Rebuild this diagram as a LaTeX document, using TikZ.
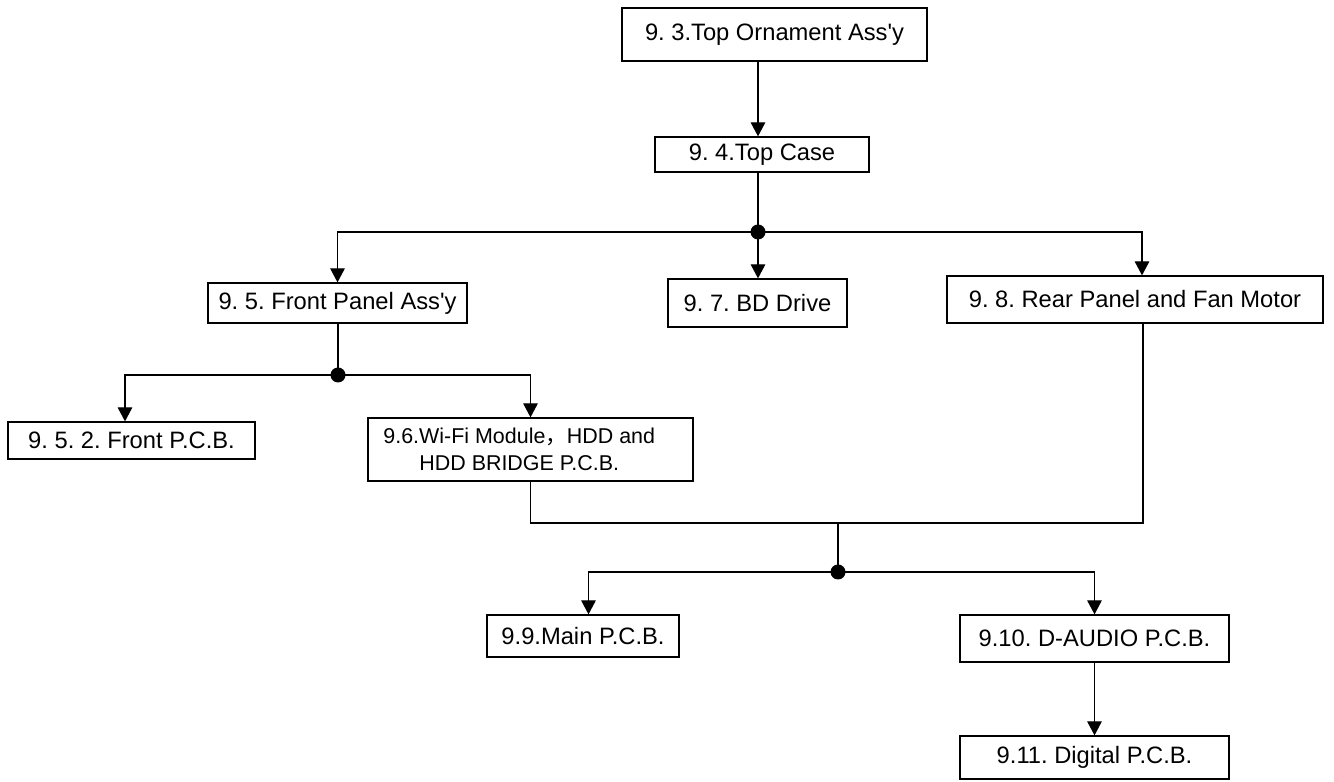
\documentclass[tikz,border=0pt]{standalone}
\usepackage{fontspec}
\setmainfont{Liberation Sans}
\newfontfamily\cjk{Noto Sans CJK SC}
\usetikzlibrary{arrows.meta, positioning}

\tikzset{
  part/.style={draw, line width=0.7pt, inner sep=0pt, align=center,
    font=\fontsize{13.5}{14}\selectfont\frenchspacing},
  link/.style={line width=0.7pt},
  arr/.style={link, ->},
}
\newcommand{\apos}{\textquotesingle}

\begin{document}
\begin{tikzpicture}[>={Triangle[length=2.8mm, width=2.9mm]}]

\useasboundingbox (0,0) rectangle (26.68,15.62);

% Boxes
\node[part, minimum width=6.10cm, minimum height=1.06cm] (top) at (15.49,14.93) {9. 3.Top Ornament Ass\apos y};
\node[part, minimum width=4.28cm, minimum height=0.70cm] (case) at (15.24,12.53) {9. 4.Top Case};
\node[part, minimum width=5.18cm, minimum height=0.80cm] (front) at (6.75,9.56) {9. 5. Front Panel Ass\apos y};
\node[part, minimum width=3.58cm, minimum height=0.96cm] (bd) at (15.15,9.56) {9. 7. BD Drive};
\node[part, minimum width=7.52cm, minimum height=0.94cm] (rear) at (22.70,9.63) {9. 8. Rear Panel and Fan Motor};
\node[part, minimum width=4.94cm, minimum height=0.74cm] (fpcb) at (2.63,6.81) {9. 5. 2. Front P.C.B.};
\node[part, minimum width=6.50cm, minimum height=1.26cm, font=\fontsize{12.2}{15}\selectfont] (wifi) at (10.61,6.63)
  {9.6.Wi-Fi Module{\cjk ，}HDD and\hspace*{0.45cm}\\HDD BRIDGE P.C.B.\hspace*{0.45cm}};
\node[part, minimum width=3.84cm, minimum height=0.84cm] (main) at (11.66,2.90) {9.9.Main P.C.B.};
\node[part, minimum width=5.38cm, minimum height=0.94cm] (daudio) at (21.89,2.85) {9.10. D-AUDIO P.C.B.};
\node[part, minimum width=5.38cm, minimum height=0.86cm] (digital) at (21.89,0.47) {9.11. Digital P.C.B.};

% Branch points
\coordinate (j1) at (15.16,10.98);
\coordinate (j2) at (6.76,8.12);
\coordinate (m) at (16.76,5.16);
\coordinate (j3) at (16.76,4.18);

% Connectors
\draw[arr] (top.south -| j1) -- (case.north -| j1);
\draw[link] (case.south -| j1) -- (j1);
\draw[arr] (j1) -| (front.north);
\draw[arr] (j1) -- (bd.north -| j1);
\draw[arr] (j1) -| ([xshift=0.14cm]rear.north);

\draw[link] (front.south -| j2) -- (j2);
\draw[arr] (j2) -| ([xshift=-0.13cm]fpcb.north);
\draw[arr] (j2) -| (wifi.north);

\draw[link] (wifi.south) |- (m) -| ([xshift=0.16cm]rear.south);
\draw[link] (m) -- (j3);
\draw[arr] (j3) -| ([xshift=0.11cm]main.north);
\draw[arr] (j3) -| (daudio.north);
\draw[arr] (daudio) -- (digital);

% Dots
\foreach \j in {j1, j2, j3}
  \fill (\j) circle (0.15);

\end{tikzpicture}
\end{document}
